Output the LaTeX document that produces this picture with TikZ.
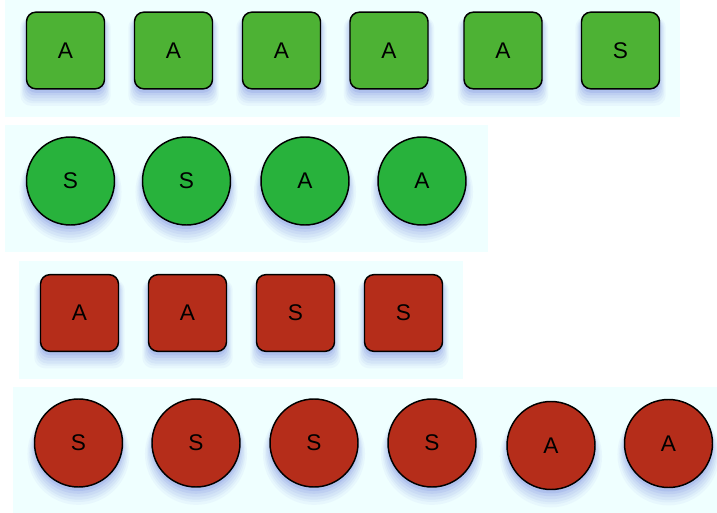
\documentclass[tikz,border=0pt]{standalone}
\usepackage{fontspec}
\setmainfont{Liberation Sans}
\usepackage{tikz}
\usetikzlibrary{shadows}

\definecolor{panelcyan}{HTML}{EFFFFF}
\definecolor{sqgreen}{HTML}{4DB234}
\definecolor{cigreen}{HTML}{28B23C}
\definecolor{tokred}{HTML}{B52D1A}
\definecolor{shadowblue}{HTML}{5A6FD8}

\begin{document}
\begin{tikzpicture}[x=0.75pt, y=-0.75pt,
    softshadow/.style={
        general shadow={shadow yshift=-7pt, shadow scale=1.16, fill=shadowblue, opacity=0.05},
        general shadow={shadow yshift=-6.5pt, shadow scale=1.12, fill=shadowblue, opacity=0.06},
        general shadow={shadow yshift=-6pt, shadow scale=1.09, fill=shadowblue, opacity=0.07},
        general shadow={shadow yshift=-5pt, shadow scale=1.06, fill=shadowblue, opacity=0.08},
        general shadow={shadow yshift=-4pt, shadow scale=1.03, fill=shadowblue, opacity=0.10},
        general shadow={shadow yshift=-3pt, shadow scale=1.0, fill=shadowblue, opacity=0.14}},
    token/.style={draw=black, line width=1.1pt, text=black, softshadow,
        font=\fontsize{17}{20}\selectfont},
    sqtoken/.style={token, rectangle, rounded corners=7pt,
        minimum width=58.5pt, minimum height=57.5pt, inner sep=0pt},
    citoken/.style={token, circle, minimum size=66pt, inner sep=0pt}]
    \useasboundingbox (0,0) rectangle (717,513);

    % background panels
    \fill[panelcyan] (5,0) rectangle (680,117);
    \fill[panelcyan] (5,125) rectangle (488,252);
    \fill[panelcyan] (19,261) rectangle (463,379);
    \fill[panelcyan] (13,387) rectangle (717,513);

    % row 1: green squares
    \foreach \x/\t [count=\i] in {65.5/A, 173.5/A, 281.5/A, 389/A, 503/A, 620.5/S}
        \node[sqtoken, fill=sqgreen] (gs\i) at (\x,50.5) {\t};

    % row 2: green circles
    \foreach \x/\t [count=\i] in {70.5/S, 186.5/S, 305/A, 422/A}
        \node[citoken, fill=cigreen] (gc\i) at (\x,181) {\t};

    % row 3: red squares
    \foreach \x/\t [count=\i] in {79.5/A, 187.5/A, 295.5/S, 403.5/S}
        \node[sqtoken, fill=tokred] (rs\i) at (\x,313) {\t};

    % row 4: red circles
    \foreach \x/\y/\t [count=\i] in {78.5/443/S, 196/443/S, 314/443/S, 432/443/S, 551/445.5/A, 668.5/443.5/A}
        \node[citoken, fill=tokred] (rc\i) at (\x,\y) {\t};
\end{tikzpicture}
\end{document}
